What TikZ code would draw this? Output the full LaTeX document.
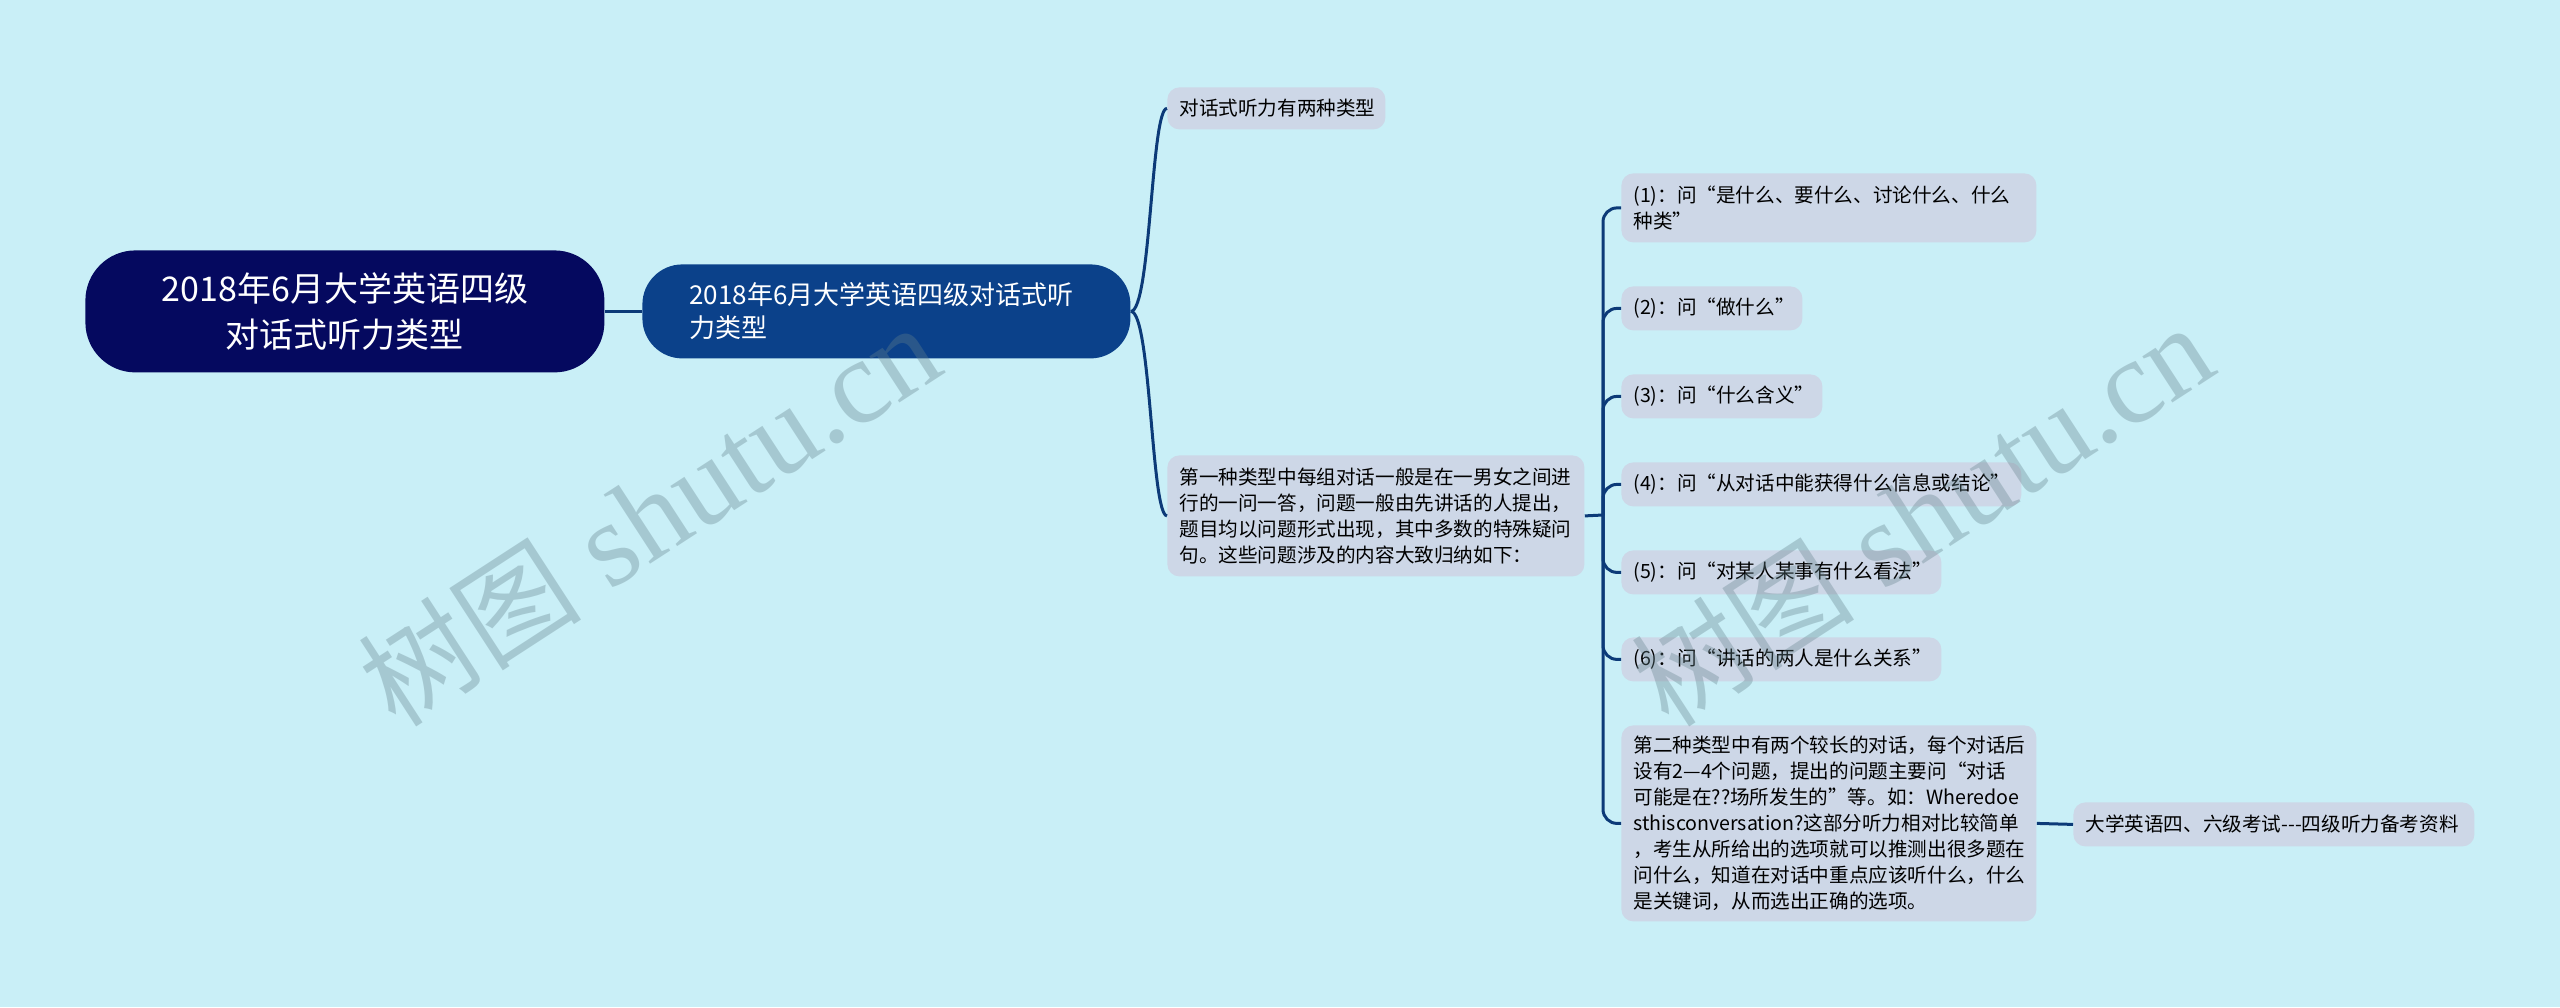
\documentclass[tikz,border=0pt]{standalone}
\usepackage{fontspec}
\setmainfont{Noto Sans CJK SC}
\newfontfamily\wmlatin{Liberation Serif}
\newfontfamily\wmcjk{Noto Sans CJK SC}
\definecolor{bgc}{HTML}{C9EFF7}
\definecolor{rootc}{HTML}{05095F}
\definecolor{lonec}{HTML}{0B418A}
\definecolor{linec}{HTML}{0C3A78}
\definecolor{boxc}{HTML}{CDD7E7}
\definecolor{wmc}{RGB}{100,130,140}
\tikzset{
  leafbox/.style={fill=boxc, rounded corners=6pt, anchor=north west, inner xsep=6pt, inner ysep=0pt,
    align=left, font=\fontsize{9.8}{13}\selectfont, text=black},
  conn/.style={draw=linec, line width=1.5pt},
  wmark/.style={text=wmc, opacity=0.35, rotate=33, inner sep=0pt}
}
\begin{document}
\begin{tikzpicture}[x=0.5pt,y=-0.5pt]
\useasboundingbox (0,0) rectangle (2560,1007);
\fill[bgc] (0,0) rectangle (2560,1007);

% root and first level
\node[fill=rootc, rounded corners=25pt, anchor=north west, minimum width=259.5pt, minimum height=61pt,
  inner sep=0pt, align=center, text=white, font=\fontsize{17}{23}\selectfont] (root) at (85,250)
  {2018年6月大学英语四级\\对话式听力类型};
\node[fill=lonec, rounded corners=20pt, anchor=north west, minimum height=47pt, text width=197pt,
  inner xsep=23.5pt, inner ysep=0pt, align=left, text=white, font=\fontsize{13}{16.5}\selectfont] (l1) at (642,264)
  {2018年6月大学英语四级对话式听\\力类型};

% second level
\node[leafbox, minimum width=109pt, minimum height=21pt, text width=97pt] (ca) at (1167,87)
  {对话式听力有两种类型};
\node[leafbox, minimum width=208.5pt, minimum height=60.5pt, text width=196.5pt] (cb) at (1167,455)
  {第一种类型中每组对话一般是在一男女之间进\\行的一问一答，问题一般由先讲话的人提出，\\题目均以问题形式出现，其中多数的特殊疑问\\句。这些问题涉及的内容大致归纳如下：};

% third level
\node[leafbox, minimum width=207.5pt, minimum height=34.5pt, text width=195.5pt] (i1) at (1621,173)
  {(1)：问“是什么、要什么、讨论什么、什么\\种类”};
\node[leafbox, minimum width=90.5pt, minimum height=22pt, text width=78.5pt] (i2) at (1621,286)
  {(2)：问“做什么”};
\node[leafbox, minimum width=100.5pt, minimum height=22pt, text width=88.5pt] (i3) at (1621,374)
  {(3)：问“什么含义”};
\node[leafbox, minimum width=200pt, minimum height=22pt, text width=188pt] (i4) at (1621,462)
  {(4)：问“从对话中能获得什么信息或结论”};
\node[leafbox, minimum width=160pt, minimum height=22pt, text width=148pt] (i5) at (1621,550)
  {(5)：问“对某人某事有什么看法”};
\node[leafbox, minimum width=160pt, minimum height=22pt, text width=148pt] (i6) at (1621,637)
  {(6)：问“讲话的两人是什么关系”};
\node[leafbox, minimum width=207.5pt, minimum height=98pt, text width=195.5pt] (i7) at (1621,725)
  {第二种类型中有两个较长的对话，每个对话后\\设有2—4个问题，提出的问题主要问“对话\\可能是在??场所发生的”等。如：Wheredoe\\sthisconversation?这部分听力相对比较简单\\，考生从所给出的选项就可以推测出很多题在\\问什么，知道在对话中重点应该听什么，什么\\是关键词，从而选出正确的选项。};
\node[leafbox, minimum width=200.5pt, minimum height=22pt, text width=188.5pt] (lf) at (2073,802)
  {大学英语四、六级考试-\kern0pt-\kern0pt-四级听力备考资料};

% connectors
\draw[conn, line width=1.7pt] (root.east) -- (l1.west);
\draw[conn] (l1.east) .. controls (1151,311) and (1151,108) .. (ca.west);
\draw[conn] (l1.east) .. controls (1151,311) and (1151,515) .. (cb.west);
\coordinate (jb) at (1603,515);
\draw[conn] (cb.east) -- (jb);
\foreach \n in {i1,i2,i3,i4,i5,i6,i7}{
  \draw[conn, rounded corners=7pt] (jb) |- (\n.west);
}
\draw[conn] (i7.east) -- (lf.west);

% watermarks
\node[wmark] (wm1) at (649,515) {\fontsize{56}{56}\wmcjk 树图\wmlatin\fontsize{60}{60}\selectfont\ shutu.cn};
\node[wmark] (wm2) at (1922,515) {\fontsize{56}{56}\wmcjk 树图\wmlatin\fontsize{60}{60}\selectfont\ shutu.cn};
\end{tikzpicture}
\end{document}
